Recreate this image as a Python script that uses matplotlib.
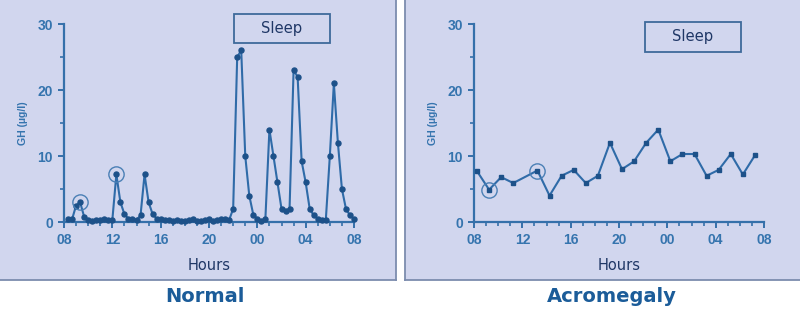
import numpy as np
import matplotlib
matplotlib.use("Agg")
import matplotlib.pyplot as plt
from matplotlib.patches import Rectangle
from matplotlib.lines import Line2D

# ---------------- data ----------------
# Normal: samples every 20 min, hours after 08:00
normal_hours = np.arange(1, 73) / 3.0
normal_gh = [0.5, 0.4, 2.5, 3.0, 0.8, 0.3, 0.2, 0.3, 0.3, 0.4, 0.3, 0.3,
             7.2, 3.0, 1.2, 0.5, 0.5, 0.3, 1.0, 7.2, 3.0, 1.2, 0.5, 0.4,
             0.3, 0.3, 0.2, 0.3, 0.2, 0.2, 0.3, 0.4, 0.2, 0.2, 0.3, 0.4,
             0.2, 0.3, 0.5, 0.4, 0.3, 2.0, 25.0, 26.0, 10.0, 4.0, 1.1, 0.5,
             0.2, 0.5, 14.0, 10.0, 6.0, 2.0, 1.7, 2.0, 23.0, 22.0, 9.2, 6.0,
             2.0, 1.0, 0.5, 0.3, 0.3, 10.0, 21.0, 12.0, 5.0, 2.0, 1.0, 0.5]
normal_circled_hours = [4 / 3.0, 13 / 3.0]
normal_circled_gh = [3.0, 7.2]

acro_hours = [0.25, 1.25, 2.25, 3.25, 5.25, 6.25, 7.25, 8.25, 9.25, 10.25,
              11.25, 12.25, 13.25, 14.25, 15.25, 16.25, 17.25, 18.25, 19.25,
              20.25, 21.25, 22.25, 23.25]
acro_gh = [7.7, 4.9, 6.8, 5.9, 7.8, 4.0, 7.0, 7.9, 5.9, 7.0, 12.0, 8.0,
           9.2, 12.0, 14.0, 9.2, 10.3, 10.3, 7.0, 7.9, 10.3, 7.2, 10.1]
acro_circled_hours = [1.25, 5.25]
acro_circled_gh = [4.9, 7.8]

x_tick_pos = [0, 4, 8, 12, 16, 20, 24]
x_tick_labels = ["08", "12", "16", "20", "00", "04", "08"]
y_tick_pos = [0, 10, 20, 30]
y_tick_labels = ["0", "10", "20", "30"]
titles = ["Normal", "Acromegaly"]

# ---------------- style ----------------
W, H = 800, 315
PANEL_BG = "#d1d6ee"
BORDER = "#7c8cae"
AX_COL = "#3570aa"
LINE_COL = "#2f6ba8"
MARK_COL = "#1d5189"
TICK_TXT = "#3574ae"
DARK_TXT = "#1f3766"
TITLE_COL = "#1b5c99"
TICK_FONT = dict(family=["Liberation Sans", "DejaVu Sans"], weight="bold",
                 size=10, color=TICK_TXT)

fig = plt.figure(figsize=(W / 100, H / 100), dpi=100)
fig.patch.set_facecolor("white")


def fx(px):
    return px / W


def fy(py):
    return 1 - py / H


# panel backgrounds
fig.patches.append(Rectangle((0, fy(280)), fx(396), 1 - fy(280),
                             transform=fig.transFigure, facecolor=PANEL_BG,
                             edgecolor="none", zorder=-2))
fig.patches.append(Rectangle((fx(405), fy(280)), 1 - fx(405), 1 - fy(280),
                             transform=fig.transFigure, facecolor=PANEL_BG,
                             edgecolor="none", zorder=-2))
for seg in [((fx(396), fx(396)), (fy(280), 1)),
            ((0, fx(396)), (fy(280), fy(280))),
            ((fx(405), fx(405)), (fy(280), 1)),
            ((fx(405), 1), (fy(280), fy(280)))]:
    fig.lines.append(Line2D(seg[0], seg[1], transform=fig.transFigure,
                            color=BORDER, lw=1.3, zorder=-1))


def make_axes(left_px, sleep_box, hours, gh, marker, msize, ch, cg, title, title_x):
    ax = fig.add_axes([fx(left_px), fy(222), fx(290), fy(24) - fy(222)])
    ax.set_zorder(3)
    ax.set_facecolor("none")
    ax.plot(hours, gh, color=LINE_COL, lw=1.5, marker=marker, ms=msize,
            mfc=MARK_COL, mec=MARK_COL, clip_on=False, zorder=3)
    ax.plot(ch, cg, linestyle="none", marker="o", ms=11, mfc="none",
            mec="#4a7fb5", mew=1.0, clip_on=False, zorder=4)
    ax.set_xlim(0, 24)
    ax.set_ylim(0, 30)
    for s in ["top", "right"]:
        ax.spines[s].set_visible(False)
    for s in ["left", "bottom"]:
        ax.spines[s].set_color(AX_COL)
        ax.spines[s].set_linewidth(1.6)
    ax.set_xticks(x_tick_pos, x_tick_labels, **TICK_FONT)
    ax.set_xticks(np.arange(0, 25, 1), minor=True)
    ax.set_yticks(y_tick_pos, y_tick_labels, **TICK_FONT)
    ax.set_yticks([5, 15, 25], minor=True)
    ax.tick_params(axis="both", which="major", length=4, width=1.4,
                   color=AX_COL, pad=4)
    ax.tick_params(axis="both", which="minor", length=3, width=1.2, color=AX_COL)
    ax.set_xlabel("Hours", fontsize=10.5, color=DARK_TXT, labelpad=8,
                  family="DejaVu Sans")
    ax.set_ylabel("GH (\u00b5g/l)", fontsize=7.6, color=TICK_TXT, fontweight="bold",
                  family=["Liberation Sans", "DejaVu Sans"], labelpad=7)
    # sleep box
    x0, y0, x1, y1 = sleep_box
    fig.patches.append(Rectangle((fx(x0), fy(y1)), fx(x1 - x0), fy(y0) - fy(y1),
                                 transform=fig.transFigure, facecolor="none",
                                 edgecolor="#3e6a9a", lw=1.3, zorder=5))
    fig.text(fx((x0 + x1) / 2), fy((y0 + y1) / 2), "Sleep", ha="center",
             va="center", fontsize=10.6, color=DARK_TXT, family="DejaVu Sans")
    fig.text(fx(title_x), fy(297), title, ha="center", va="center",
             fontsize=14, fontweight="bold", color=TITLE_COL, family="DejaVu Sans")
    return ax


make_axes(64, (234, 14, 330, 43), normal_hours, normal_gh, "o", 3.6,
          normal_circled_hours, normal_circled_gh, titles[0], 205)
make_axes(474, (645, 22, 741, 52), acro_hours, acro_gh, "s", 3.4,
          acro_circled_hours, acro_circled_gh, titles[1], 612)

fig.savefig("out.png", dpi=100, facecolor=fig.get_facecolor())
